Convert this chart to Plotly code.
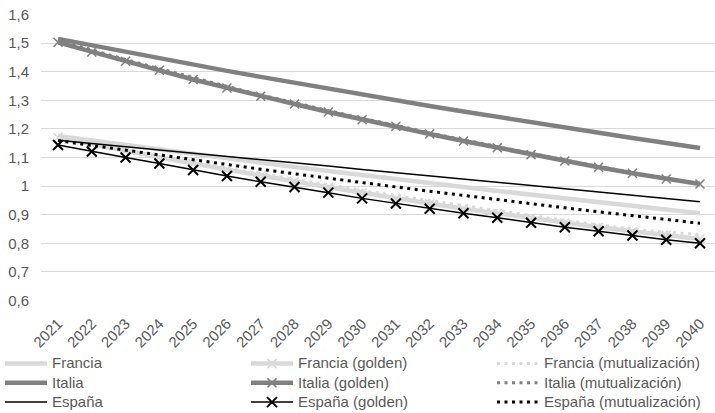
import plotly.graph_objects as go

years = [str(y) for y in range(2021, 2041)]

francia = [1.175, 1.159, 1.143, 1.128, 1.112, 1.097, 1.082, 1.067, 1.053, 1.038,
           1.024, 1.010, 0.997, 0.983, 0.970, 0.956, 0.943, 0.930, 0.918, 0.905]
francia_golden = [1.170, 1.146, 1.123, 1.101, 1.079, 1.057, 1.036, 1.016, 0.996, 0.976,
                  0.957, 0.939, 0.921, 0.904, 0.887, 0.871, 0.856, 0.842, 0.828, 0.815]
francia_mut = [1.170, 1.148, 1.126, 1.105, 1.084, 1.063, 1.043, 1.023, 1.004, 0.985,
               0.967, 0.949, 0.931, 0.914, 0.897, 0.880, 0.864, 0.849, 0.839, 0.830]

italia = [1.515, 1.492, 1.469, 1.447, 1.425, 1.403, 1.382, 1.361, 1.340, 1.320,
          1.300, 1.280, 1.261, 1.242, 1.223, 1.205, 1.186, 1.168, 1.151, 1.133]
italia_golden = [1.503, 1.469, 1.437, 1.405, 1.373, 1.343, 1.314, 1.287, 1.259, 1.232,
                 1.209, 1.182, 1.158, 1.134, 1.110, 1.088, 1.066, 1.045, 1.025, 1.007]
italia_mut = [1.510, 1.476, 1.443, 1.411, 1.379, 1.349, 1.319, 1.292, 1.264, 1.237,
              1.213, 1.186, 1.162, 1.138, 1.113, 1.091, 1.069, 1.048, 1.027, 1.009]

espana = [1.160, 1.149, 1.137, 1.126, 1.115, 1.104, 1.092, 1.081, 1.070, 1.058,
          1.047, 1.036, 1.024, 1.013, 1.002, 0.990, 0.979, 0.968, 0.957, 0.945]
espana_golden = [1.144, 1.121, 1.100, 1.079, 1.056, 1.035, 1.015, 0.997, 0.977, 0.957,
                 0.939, 0.921, 0.905, 0.889, 0.872, 0.856, 0.842, 0.827, 0.812, 0.800]
espana_mut = [1.159, 1.142, 1.125, 1.108, 1.091, 1.075, 1.059, 1.043, 1.027, 1.012,
              0.997, 0.982, 0.967, 0.952, 0.938, 0.924, 0.910, 0.896, 0.883, 0.870]

y_ticks = [0.6, 0.7, 0.8, 0.9, 1.0, 1.1, 1.2, 1.3, 1.4, 1.5, 1.6]
y_tick_text = ["0,6", "0,7", "0,8", "0,9", "1", "1,1", "1,2", "1,3", "1,4", "1,5", "1,6"]

LIGHT = "#D9D9D9"
MID = "#808080"
DARK = "#000000"
TEXT = "#595959"
DOTS = "3px,4.5px"


def label(text):
    # legend rows are packed tighter than the label size would normally allow
    return f'<span style="font-size:15px">{text}</span>'


# (name, values, line style, marker style, legend column)
series = [
    ("Francia", francia, dict(color=LIGHT, width=4.5), None, "legend"),
    ("Francia (golden)", francia_golden, dict(color=LIGHT, width=4.5),
     dict(symbol="x-thin-open", size=9, line=dict(color=LIGHT, width=1.5)), "legend2"),
    ("Francia (mutualización)", francia_mut, dict(color=LIGHT, width=3, dash=DOTS), None, "legend3"),
    ("Italia", italia, dict(color=MID, width=4.5), None, "legend"),
    ("Italia (golden)", italia_golden, dict(color=MID, width=4.5),
     dict(symbol="x-thin-open", size=9, line=dict(color=MID, width=1.5)), "legend2"),
    ("Italia (mutualización)", italia_mut, dict(color=MID, width=3, dash=DOTS), None, "legend3"),
    ("España", espana, dict(color=DARK, width=1.5), None, "legend"),
    ("España (golden)", espana_golden, dict(color=DARK, width=1.5),
     dict(symbol="x-thin-open", size=10, line=dict(color=DARK, width=2)), "legend2"),
    ("España (mutualización)", espana_mut, dict(color=DARK, width=3, dash=DOTS), None, "legend3"),
]

fig = go.Figure()
for name, vals, line, marker, leg in series:
    fig.add_trace(go.Scatter(
        x=years, y=vals, name=label(name),
        mode="lines+markers" if marker else "lines",
        line=line, marker=marker, legend=leg,
    ))

legend_common = dict(
    orientation="v", xref="container", yref="container",
    xanchor="left", yanchor="top", y=0.155,
    font=dict(size=12.5, color=TEXT),
    bgcolor="rgba(0,0,0,0)", tracegroupgap=0, itemwidth=42,
)

fig.update_layout(
    width=715, height=413,
    margin=dict(l=41, r=0, t=14, b=112, autoexpand=False),
    plot_bgcolor="white", paper_bgcolor="white",
    font=dict(family="Liberation Sans, Arial, sans-serif", size=15, color=TEXT),
    showlegend=True,
    legend=dict(legend_common, x=0.0),
    legend2=dict(legend_common, x=246 / 715),
    legend3=dict(legend_common, x=492 / 715),
    xaxis=dict(
        type="category", range=[-0.503, 19.444], automargin=False,
        showgrid=False, showline=False, zeroline=False,
        ticks="outside", ticklen=7, tickcolor="rgba(0,0,0,0)",
        tickangle=-45, tickfont=dict(size=15, color=TEXT),
    ),
    yaxis=dict(
        range=[0.598, 1.602], tickvals=y_ticks, ticktext=y_tick_text,
        automargin=False,
        showgrid=True, gridcolor=LIGHT, gridwidth=1,
        zeroline=False, showline=False,
        ticks="outside", ticklen=8, tickcolor="rgba(0,0,0,0)",
        tickfont=dict(size=15, color=TEXT),
    ),
)

fig.write_html("out.html")
